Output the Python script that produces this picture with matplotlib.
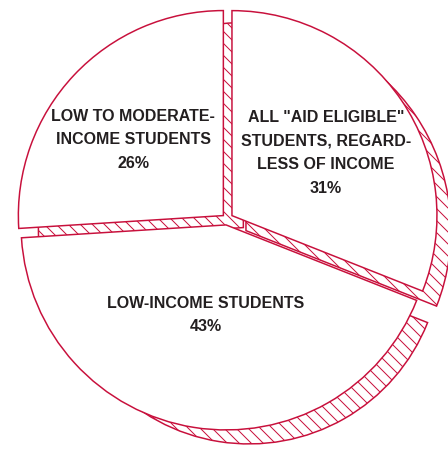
import matplotlib
matplotlib.use("Agg")
import matplotlib.pyplot as plt

# share of students by aid eligibility, clockwise from 12 o'clock
labels = ['ALL "AID ELIGIBLE"\nSTUDENTS, REGARD-\nLESS OF INCOME',
          "LOW-INCOME STUDENTS",
          "LOW TO MODERATE-\nINCOME STUDENTS"]
shares = [31, 43, 26]

RED = "#c8103c"
INK = "#231f20"

plt.rcParams["hatch.color"] = RED
plt.rcParams["hatch.linewidth"] = 1.0

W, H, DPI = 448, 449, 72
fig = plt.figure(figsize=(W / DPI, H / DPI), dpi=DPI)
ax = fig.add_axes([0, 0, 1, 1])

center = (227, H - 219)
radius = 205
explode = [6, 6, 5]
# side face of each slice: shift (right, down) and how much smaller it is
depth = [(14, -15), (23, -27), (20, -12)]
shrink = [0, 13, 0]

# hatched side faces first, then the white tops over them
sides, _ = ax.pie(shares, explode=explode, startangle=90, counterclock=False,
                  radius=radius, center=center,
                  wedgeprops=dict(facecolor="white", edgecolor=RED,
                                  linewidth=1.5, hatch="\\\\"))
for w, (dx, dy), s in zip(sides, depth, shrink):
    cx, cy = w.center
    w.set_center((cx + dx, cy + dy))
    w.set_radius(radius - s)

ax.pie(shares, explode=explode, startangle=90, counterclock=False,
       radius=radius, center=center,
       wedgeprops=dict(facecolor="white", edgecolor=RED, linewidth=1.5))

text_pos = [(326, H - 153), (206, H - 315), (133, H - 140)]
for lab, val, (x, y) in zip(labels, shares, text_pos):
    ax.text(x, y, f"{lab}\n{val}%", ha="center", va="center",
            fontsize=16, fontweight="bold", color=INK,
            family="Liberation Sans", linespacing=1.72)

ax.set_xlim(0, W)
ax.set_ylim(0, H)
ax.set_aspect("equal")
ax.axis("off")

fig.savefig("out.png", dpi=DPI, facecolor="white")
